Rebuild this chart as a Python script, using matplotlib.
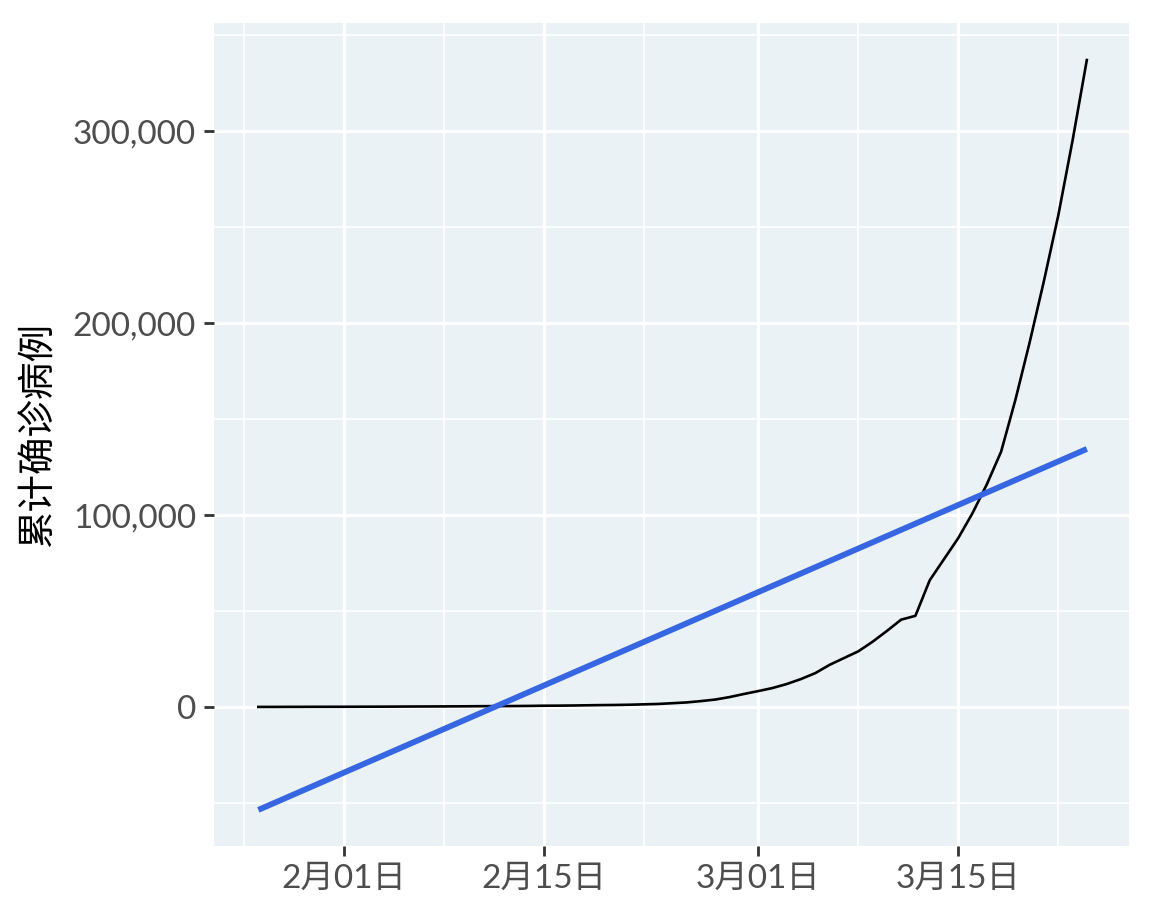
import numpy as np
import pandas as pd
import matplotlib
matplotlib.use("Agg")
import matplotlib.pyplot as plt
import matplotlib.dates as mdates
from matplotlib.ticker import FuncFormatter, MultipleLocator

plt.rcParams['font.family'] = ['Lato', 'Noto Sans CJK SC', 'DejaVu Sans']

# cumulative confirmed cases (daily, 1/26 - 3/24)
dates = pd.date_range("2020-01-26", "2020-03-24", freq="D")
cases = [
    50, 60, 80, 100, 115, 125,                     # 1/26 - 1/31
    135, 160, 180, 200, 240, 270, 290, 320, 350,   # 2/01 - 2/09
    400, 450, 480, 520, 580, 680,                  # 2/10 - 2/15
    720, 790, 900, 1000, 1070, 1200, 1400, 1600,   # 2/16 - 2/23
    2000, 2400, 3100, 3900, 5200, 6800,            # 2/24 - 2/29
    8300, 9900, 12000, 14600, 17700, 22000, 25500, 29000, 34000, 39600,  # 3/01 - 3/10
    45500, 47500, 66000, 77000, 88000, 101000, 116000, 133000,           # 3/11 - 3/18
    160000, 190000, 222000, 256000, 295000, 337000,                      # 3/19 - 3/24
]

tick_dates = pd.to_datetime(["2020-02-01", "2020-02-15", "2020-03-01", "2020-03-15"])
tick_labels = ["2月01日", "2月15日", "3月01日", "3月15日"]
minor_dates = pd.to_datetime(["2020-01-25", "2020-02-08", "2020-02-22", "2020-03-08", "2020-03-22"])

# linear trend (like geom_smooth(method = "lm"))
xnum = mdates.date2num(dates)
k, b = np.polyfit(xnum, cases, 1)
fit = k * xnum + b

fig = plt.figure(figsize=(11.52, 9.22), dpi=100)
ax = fig.add_axes([0.1858, 0.0824, 0.7942, 0.8926])
ax.set_facecolor("#EAF2F6")

ax.plot(dates, cases, color="black", lw=1.9, zorder=3)
ax.plot(dates, fit, color="#3766E3", lw=4.2, zorder=4, solid_capstyle="butt")

ax.set_xticks(tick_dates)
ax.set_xticklabels(tick_labels)
ax.set_xticks(minor_dates, minor=True)
ax.yaxis.set_major_locator(MultipleLocator(100000))
ax.yaxis.set_minor_locator(MultipleLocator(50000))
ax.yaxis.set_major_formatter(FuncFormatter(lambda v, p: f"{int(v):,}"))

ax.set_xlim(pd.Timestamp("2020-02-01") - pd.Timedelta(days=9.1),
            pd.Timestamp("2020-02-01") + pd.Timedelta(days=54.95))
ax.set_ylim(-72400, 356250)

ax.grid(which="major", color="white", lw=2.3)
ax.grid(which="minor", color="white", lw=1.2)
ax.set_axisbelow(True)
for s in ax.spines.values():
    s.set_visible(False)

ax.tick_params(which="major", length=7, width=2, color="#333333",
               labelsize=24, labelcolor="#4D4D4D", pad=6)
ax.tick_params(which="minor", length=0)

ax.set_ylabel("累计确诊病例", fontsize=27, color="black", labelpad=12)

fig.savefig("out.png", dpi=100)
